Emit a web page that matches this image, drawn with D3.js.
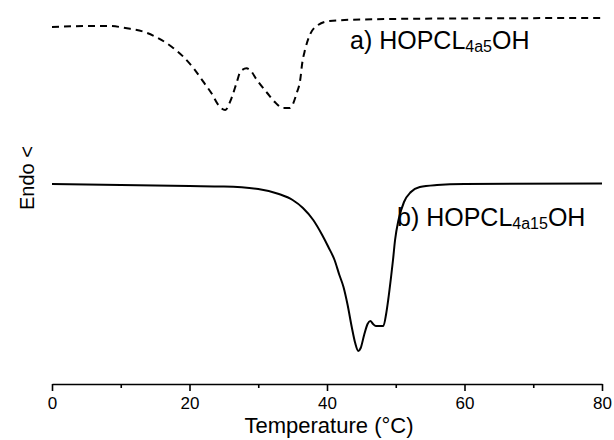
<!DOCTYPE html>
<html>
<head>
<meta charset="utf-8">
<script src="https://cdn.jsdelivr.net/npm/d3@7"></script>
<style>
  body { margin: 0; background: #fff; }
  svg text { font-family: "Liberation Sans", Arial, sans-serif; fill: #000; }
</style>
</head>
<body>
<svg width="614" height="440"></svg>
<script>
// temperature (°C) and heat flow (arbitrary units, endo down)
var tempA = [0, 5.5, 8.4, 10.9, 13.3, 15.5, 17.4, 19.1, 20.6, 22.0, 23.2, 24.2, 25.2, 26.1, 26.9, 27.4, 28.3, 28.8, 29.8, 31.3, 32.4, 33.6, 34.6, 35.6, 36.1, 36.4, 36.8, 37.5, 38.7, 40.4, 44.8, 57.9, 80];
var flowA = [35.7, 35.8, 35.8, 35.57, 35.23, 34.57, 33.73, 32.73, 31.57, 30.23, 29.07, 27.9, 27.4, 28.57, 30.23, 31.23, 31.57, 31.4, 30.4, 29.1, 28.2, 27.6, 27.6, 29.1, 30.4, 32.1, 33.4, 34.9, 35.9, 36.3, 36.45, 36.55, 36.6];

var tempB = [0, 10, 20, 25, 30, 33, 35, 36.5, 38, 39.3, 40.2, 41.1, 41.8, 42.4, 43.0, 43.6, 44.1, 44.55, 44.9, 45.4, 45.9, 46.3, 46.7, 47.1, 48.2, 48.6, 48.9, 49.3, 49.6, 49.9, 50.4, 51.2, 52.2, 53.5, 56, 60, 80];
var flowB = [20.0, 19.9, 19.8, 19.75, 19.5, 19.0, 18.4, 17.6, 16.4, 14.9, 13.7, 12.4, 10.9, 9.7, 7.9, 5.7, 4.1, 3.3, 3.6, 4.9, 6.0, 6.3, 6.0, 5.8, 5.8, 7.0, 8.4, 10.6, 12.4, 14.4, 16.4, 18.2, 19.2, 19.7, 19.9, 20.0, 20.05];

var majorTicks = [0, 20, 40, 60, 80];
var minorTicks = [10, 30, 50, 70];

var svg = d3.select("svg"),
    margin = {top: 4, right: 12, bottom: 56, left: 52},
    width = +svg.attr("width") - margin.left - margin.right,
    height = +svg.attr("height") - margin.top - margin.bottom;

var g = svg.append("g").attr("transform", "translate(" + margin.left + "," + margin.top + ")");

var x = d3.scaleLinear().domain([0, 80]).range([0, width]);
var y = d3.scaleLinear().domain([0, 38]).range([height, 0]);

var line = d3.line()
    .x(function(d) { return x(d[0]); })
    .y(function(d) { return y(d[1]); })
    .curve(d3.curveMonotoneX);

var dataA = tempA.map(function(t, i) { return [t, flowA[i]]; });
var dataB = tempB.map(function(t, i) { return [t, flowB[i]]; });

g.append("path")
    .datum(dataA)
    .attr("fill", "none")
    .attr("stroke", "#000")
    .attr("stroke-width", 2)
    .attr("stroke-dasharray", "7,5")
    .attr("d", line);

g.append("path")
    .datum(dataB)
    .attr("fill", "none")
    .attr("stroke", "#000")
    .attr("stroke-width", 2)
    .attr("d", line);

// x axis
var xAxis = g.append("g")
    .attr("transform", "translate(0," + height + ")")
    .call(d3.axisBottom(x).tickValues(majorTicks).tickSize(7).tickPadding(6).tickSizeOuter(0));
xAxis.select(".domain").attr("stroke-width", 1.6);
xAxis.selectAll(".tick line").attr("stroke-width", 1.6);
xAxis.selectAll(".tick text").attr("font-size", 17).style("font-family", "Liberation Sans, Arial, sans-serif");

var xMinor = g.append("g")
    .attr("transform", "translate(0," + height + ")")
    .call(d3.axisBottom(x).tickValues(minorTicks).tickSize(4).tickFormat(""));
xMinor.select(".domain").remove();
xMinor.selectAll(".tick line").attr("stroke-width", 1.6);

svg.append("text")
    .attr("x", margin.left + width / 2 + 2)
    .attr("y", 433)
    .attr("text-anchor", "middle")
    .attr("font-size", 22)
    .text("Temperature (°C)");

svg.append("text")
    .attr("transform", "translate(34,178) rotate(-90)")
    .attr("text-anchor", "middle")
    .attr("font-size", 20)
    .text("Endo <");

// curve labels
function label(xp, yp, sub) {
  var t = svg.append("text").attr("x", xp).attr("y", yp).attr("font-size", 25);
  t.append("tspan").text(sub[0]);
  t.append("tspan").attr("font-size", 16).attr("dy", 3).text(sub[1]);
  t.append("tspan").attr("dy", -3).text(sub[2]);
}
label(350, 49, ["a) HOPCL", "4a5", "OH"]);
label(397, 226, ["b) HOPCL", "4a15", "OH"]);
</script>
</body>
</html>
